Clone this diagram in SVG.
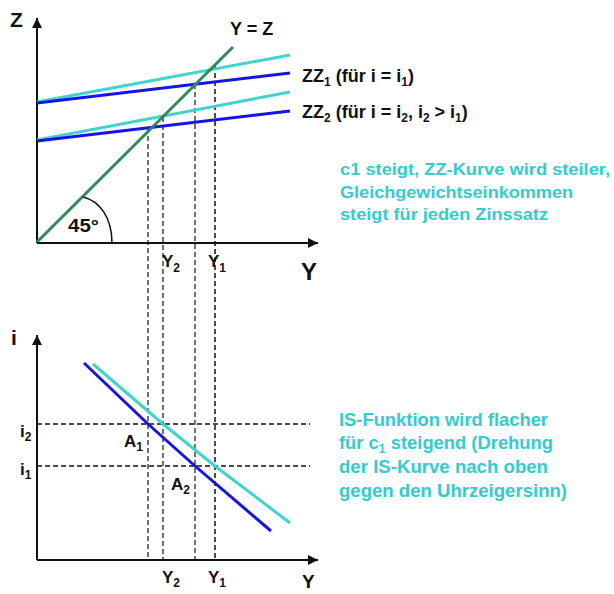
<svg xmlns="http://www.w3.org/2000/svg" width="614" height="594" viewBox="0 0 614 594">
<style>
text{font-family:"Liberation Sans",Arial,sans-serif;font-weight:bold;fill:#111}
.axis{stroke:#111;stroke-width:2;fill:none}
.dash{stroke:#444;stroke-width:1.5;stroke-dasharray:5,3;fill:none}
.dashk{stroke:#111;stroke-width:1.5;stroke-dasharray:5,3;fill:none}
.cy{stroke:#40D4CC;stroke-width:3;fill:none;stroke-linejoin:round}
.bl{stroke:#1414E8;stroke-width:3;fill:none;stroke-linejoin:round}
.gr{stroke:#2E8B57;stroke-width:3;fill:none}
.note{fill:#33CCCC}
</style>
<defs>
<marker id="ah" markerUnits="userSpaceOnUse" markerWidth="10" markerHeight="10" refX="10" refY="5" orient="auto">
<path d="M0,0 L10,5 L0,10 z" fill="#111"/>
</marker>
</defs>

<g id="connectors">
<line class="dash" x1="148" y1="128" x2="148" y2="560"/>
<line class="dash" x1="163" y1="117" x2="163" y2="560"/>
<line class="dash" x1="195" y1="84" x2="195" y2="560"/>
<line class="dashk" x1="215" y1="65" x2="215" y2="560"/>
<line class="dashk" x1="37" y1="424" x2="310" y2="424"/>
<line class="dashk" x1="37" y1="466" x2="310" y2="466"/>
</g>

<g id="top-axes">
<line class="axis" x1="37" y1="243" x2="37" y2="18" marker-end="url(#ah)"/>
<line class="axis" x1="37" y1="243" x2="318" y2="243" marker-end="url(#ah)"/>
<text x="10" y="27" font-size="21">Z</text>
<text x="301" y="280" font-size="24">Y</text>
</g>

<g id="zz-curves">
<line class="cy" x1="37" y1="102" x2="290" y2="55"/>
<line class="bl" x1="37" y1="103" x2="290" y2="73"/>
<line class="cy" x1="37" y1="140" x2="290" y2="92"/>
<line class="bl" x1="37" y1="141" x2="290" y2="111"/>
</g>

<g id="yz-line">
<line class="gr" x1="37" y1="242" x2="233" y2="47"/>
<path d="M83,197 C100,201 112,218 112,243" fill="none" stroke="#111" stroke-width="1.5"/>
<text x="68" y="232" font-size="18" textLength="31" lengthAdjust="spacingAndGlyphs">45°</text>
<text x="230" y="35" font-size="18">Y = Z</text>
</g>

<g id="zz-labels">
<text x="302" y="82" font-size="18">ZZ<tspan dy="4" font-size="12">1</tspan><tspan dy="-4"> (für i = i</tspan><tspan dy="4" font-size="12">1</tspan><tspan dy="-4">)</tspan></text>
<text x="302" y="118" font-size="18">ZZ<tspan dy="4" font-size="12">2</tspan><tspan dy="-4"> (für i = i</tspan><tspan dy="4" font-size="12">2</tspan><tspan dy="-4">, i</tspan><tspan dy="4" font-size="12">2</tspan><tspan dy="-4"> &gt; i</tspan><tspan dy="4" font-size="12">1</tspan><tspan dy="-4">)</tspan></text>
</g>

<g id="top-note">
<text class="note" x="340" y="175" font-size="17" textLength="270" lengthAdjust="spacingAndGlyphs">c1 steigt, ZZ-Kurve wird steiler,</text>
<text class="note" x="340" y="197.5" font-size="17" textLength="233" lengthAdjust="spacingAndGlyphs">Gleichgewichtseinkommen</text>
<text class="note" x="340" y="220" font-size="17" textLength="208" lengthAdjust="spacingAndGlyphs">steigt für jeden Zinssatz</text>
</g>

<g id="top-ticks">
<text x="162" y="267" font-size="17">Y<tspan dy="5" font-size="12">2</tspan></text>
<text x="208" y="267" font-size="17">Y<tspan dy="5" font-size="12">1</tspan></text>
</g>

<g id="bottom-axes">
<line class="axis" x1="37" y1="560" x2="37" y2="335" marker-end="url(#ah)"/>
<line class="axis" x1="37" y1="560" x2="318" y2="560" marker-end="url(#ah)"/>
<text x="11" y="345" font-size="21">i</text>
<text x="302" y="588" font-size="19">Y</text>
<text x="162" y="583" font-size="17">Y<tspan dy="4" font-size="12">2</tspan></text>
<text x="208" y="583" font-size="17">Y<tspan dy="4" font-size="12">1</tspan></text>
<text x="20" y="437" font-size="17">i<tspan dy="4" font-size="12">2</tspan></text>
<text x="20" y="475" font-size="17">i<tspan dy="4" font-size="12">1</tspan></text>
</g>

<g id="is-curves">
<polyline class="cy" points="93,364 163,424 215,466 290,523"/>
<polyline class="bl" points="84,363 148,424 195,466 271,531"/>
<text x="124" y="447" font-size="17">A<tspan dy="4" font-size="12">1</tspan></text>
<text x="171" y="490" font-size="17">A<tspan dy="4" font-size="12">2</tspan></text>
</g>

<g id="bottom-note">
<text class="note" x="339" y="426" font-size="18" textLength="209" lengthAdjust="spacingAndGlyphs">IS-Funktion wird flacher</text>
<text class="note" x="339" y="449" font-size="18" textLength="214" lengthAdjust="spacingAndGlyphs">für c<tspan dy="4" font-size="12">1</tspan><tspan dy="-4"> steigend (Drehung</tspan></text>
<text class="note" x="339" y="473" font-size="18" textLength="209" lengthAdjust="spacingAndGlyphs">der IS-Kurve nach oben</text>
<text class="note" x="339" y="497" font-size="18" textLength="228" lengthAdjust="spacingAndGlyphs">gegen den Uhrzeigersinn)</text>
</g>
</svg>
